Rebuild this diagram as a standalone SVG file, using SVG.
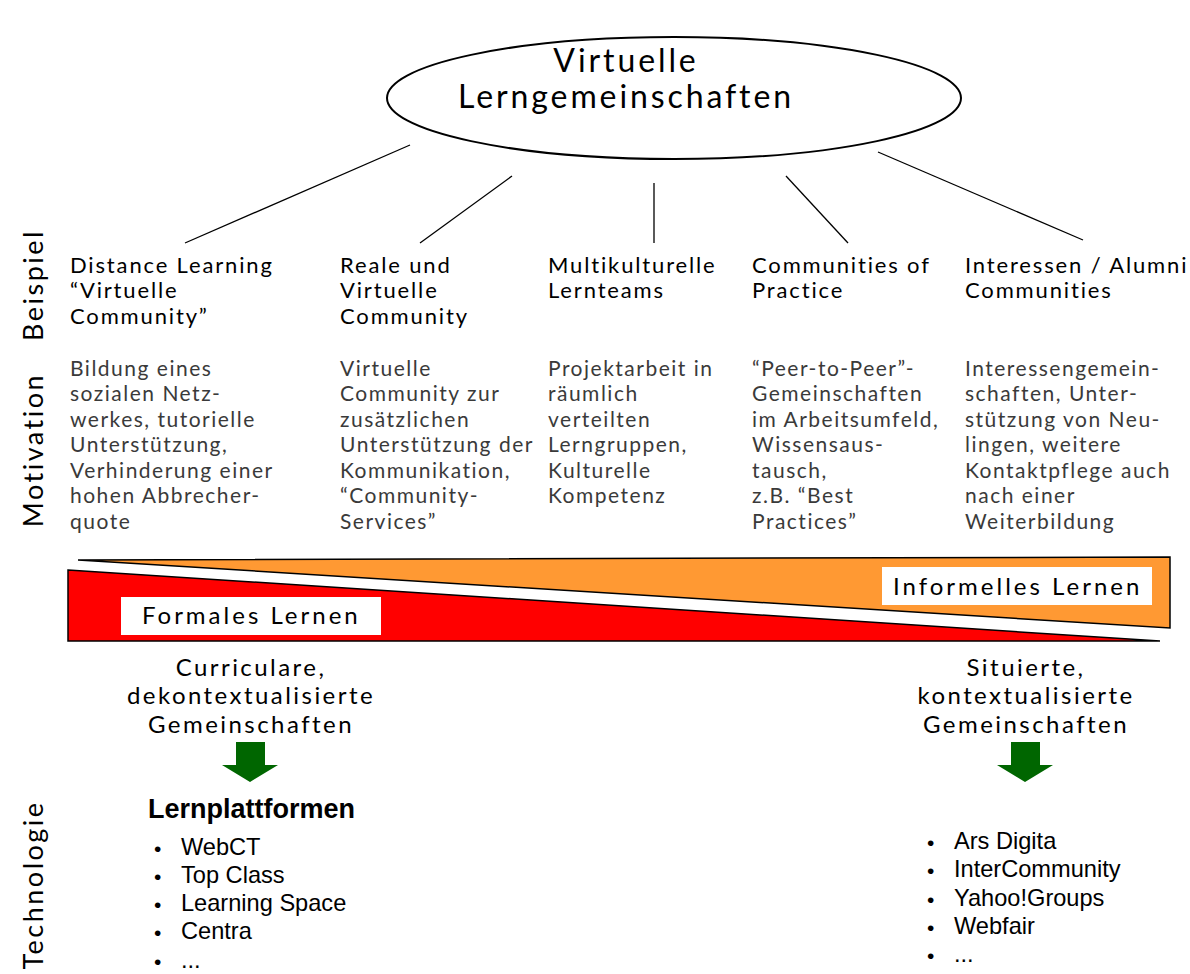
<svg xmlns="http://www.w3.org/2000/svg" width="1190" height="974" viewBox="0 0 1190 974">
  <style>
    .gs { font-family: Lato, "Open Sans", "DejaVu Sans", sans-serif; fill: #000; }
    .title { font-size: 32px; text-anchor: middle; letter-spacing: 2.9px; }
    .head { font-size: 22px; letter-spacing: 1.85px; }
    .body { font-size: 21px; fill: #3a3a3a; letter-spacing: 1.5px; }
    .side { font-size: 27px; text-anchor: middle; letter-spacing: 2.5px; }
    .sub { font-size: 24px; text-anchor: middle; letter-spacing: 2.45px; }
    .tag { font-size: 24px; letter-spacing: 3px; }
    .ar { font-family: "Liberation Sans", Arial, sans-serif; fill: #000; font-size: 23.6px; }
    .ar .bl { font-size: 21px; }
    .arb { font-family: "Liberation Sans", Arial, sans-serif; fill: #000; font-size: 27px; font-weight: bold; }
    .conn line { stroke: #000; stroke-width: 1.3; }
    .arrow { fill: #006600; }
  </style>

  <!-- central topic -->
  <g id="topic">
    <ellipse cx="674" cy="98" rx="287" ry="61" fill="#fff" stroke="#000" stroke-width="2"/>
    <text class="gs title" x="626" y="72">Virtuelle</text>
    <text class="gs title" x="626" y="108">Lerngemeinschaften</text>
  </g>

  <!-- connectors from the topic to each community type -->
  <g id="connectors" class="conn">
    <line x1="410" y1="145" x2="185" y2="243"/>
    <line x1="512" y1="176" x2="420" y2="243"/>
    <line x1="654" y1="183" x2="654" y2="243"/>
    <line x1="786" y1="176" x2="848" y2="243"/>
    <line x1="878" y1="152" x2="1083" y2="240"/>
  </g>

  <!-- row labels -->
  <g id="row-labels">
    <text class="gs side" transform="translate(43,285) rotate(-90)">Beispiel</text>
    <text class="gs side" transform="translate(43,450) rotate(-90)">Motivation</text>
    <text class="gs side" transform="translate(43,885) rotate(-90)">Technologie</text>
  </g>

  <g id="col-distance">
    <text class="gs head" x="70" y="273">Distance Learning</text>
    <text class="gs head" x="70" y="298">“Virtuelle</text>
    <text class="gs head" x="70" y="324">Community”</text>
    <text class="gs body" x="70" y="376">Bildung eines</text>
    <text class="gs body" x="70" y="401">sozialen Netz-</text>
    <text class="gs body" x="70" y="427">werkes, tutorielle</text>
    <text class="gs body" x="70" y="452">Unterstützung,</text>
    <text class="gs body" x="70" y="478">Verhinderung einer</text>
    <text class="gs body" x="70" y="503">hohen Abbrecher-</text>
    <text class="gs body" x="70" y="529">quote</text>
  </g>

  <g id="col-reale">
    <text class="gs head" x="340" y="273">Reale und</text>
    <text class="gs head" x="340" y="298">Virtuelle</text>
    <text class="gs head" x="340" y="324">Community</text>
    <text class="gs body" x="340" y="376">Virtuelle</text>
    <text class="gs body" x="340" y="401">Community zur</text>
    <text class="gs body" x="340" y="427">zusätzlichen</text>
    <text class="gs body" x="340" y="452">Unterstützung der</text>
    <text class="gs body" x="340" y="478">Kommunikation,</text>
    <text class="gs body" x="340" y="503">“Community-</text>
    <text class="gs body" x="340" y="529">Services”</text>
  </g>

  <g id="col-multikulturell">
    <text class="gs head" x="548" y="273">Multikulturelle</text>
    <text class="gs head" x="548" y="298">Lernteams</text>
    <text class="gs body" x="548" y="376">Projektarbeit in</text>
    <text class="gs body" x="548" y="401">räumlich</text>
    <text class="gs body" x="548" y="427">verteilten</text>
    <text class="gs body" x="548" y="452">Lerngruppen,</text>
    <text class="gs body" x="548" y="478">Kulturelle</text>
    <text class="gs body" x="548" y="503">Kompetenz</text>
  </g>

  <g id="col-practice">
    <text class="gs head" x="752" y="273">Communities of</text>
    <text class="gs head" x="752" y="298">Practice</text>
    <text class="gs body" x="752" y="376">“Peer-to-Peer”-</text>
    <text class="gs body" x="752" y="401">Gemeinschaften</text>
    <text class="gs body" x="752" y="427">im Arbeitsumfeld,</text>
    <text class="gs body" x="752" y="452">Wissensaus-</text>
    <text class="gs body" x="752" y="478">tausch,</text>
    <text class="gs body" x="752" y="503">z.B. “Best</text>
    <text class="gs body" x="752" y="529">Practices”</text>
  </g>

  <g id="col-interessen">
    <text class="gs head" x="965" y="273">Interessen / Alumni</text>
    <text class="gs head" x="965" y="298">Communities</text>
    <text class="gs body" x="965" y="376">Interessengemein-</text>
    <text class="gs body" x="965" y="401">schaften, Unter-</text>
    <text class="gs body" x="965" y="427">stützung von Neu-</text>
    <text class="gs body" x="965" y="452">lingen, weitere</text>
    <text class="gs body" x="965" y="478">Kontaktpflege auch</text>
    <text class="gs body" x="965" y="503">nach einer</text>
    <text class="gs body" x="965" y="529">Weiterbildung</text>
  </g>

  <!-- opposing wedges: informal vs formal learning -->
  <g id="wedge-informell">
    <polygon points="78,560 1170,557 1170,628" fill="#FF9933" stroke="#000" stroke-width="1.5"/>
    <rect x="882" y="567" width="270" height="38" fill="#fff"/>
    <text class="gs tag" x="893" y="595">Informelles Lernen</text>
  </g>

  <g id="wedge-formal">
    <polygon points="68,570 1160,641 68,641" fill="#FF0000" stroke="#000" stroke-width="1.5"/>
    <rect x="121" y="597" width="260" height="38" fill="#fff"/>
    <text class="gs tag" x="142" y="624">Formales Lernen</text>
  </g>

  <g id="formal-communities">
    <text class="gs sub" x="251" y="676">Curriculare,</text>
    <text class="gs sub" x="251" y="704">dekontextualisierte</text>
    <text class="gs sub" x="251" y="733">Gemeinschaften</text>
    <polygon class="arrow" points="236,742 265,742 265,765 278,765 250,782 222,765 236,765"/>
  </g>

  <g id="informal-communities">
    <text class="gs sub" x="1026" y="676">Situierte,</text>
    <text class="gs sub" x="1026" y="704">kontextualisierte</text>
    <text class="gs sub" x="1026" y="733">Gemeinschaften</text>
    <polygon class="arrow" points="1011,742 1040,742 1040,765 1053,765 1025,782 997,765 1011,765"/>
  </g>

  <g id="tech-lernplattformen">
    <text class="arb" x="148" y="818">Lernplattformen</text>
    <g class="ar">
      <text class="bl" x="154" y="856">•</text><text x="181" y="855">WebCT</text>
      <text class="bl" x="154" y="884">•</text><text x="181" y="883">Top Class</text>
      <text class="bl" x="154" y="912">•</text><text x="181" y="911">Learning Space</text>
      <text class="bl" x="154" y="940">•</text><text x="181" y="939">Centra</text>
      <text class="bl" x="154" y="969">•</text><text x="181" y="968">...</text>
    </g>
  </g>

  <g id="tech-community">
    <g class="ar">
      <text class="bl" x="927" y="850">•</text><text x="954" y="849">Ars Digita</text>
      <text class="bl" x="927" y="878">•</text><text x="954" y="877">InterCommunity</text>
      <text class="bl" x="927" y="907">•</text><text x="954" y="906">Yahoo!Groups</text>
      <text class="bl" x="927" y="935">•</text><text x="954" y="934">Webfair</text>
      <text class="bl" x="927" y="963">•</text><text x="954" y="962">...</text>
    </g>
  </g>
</svg>
